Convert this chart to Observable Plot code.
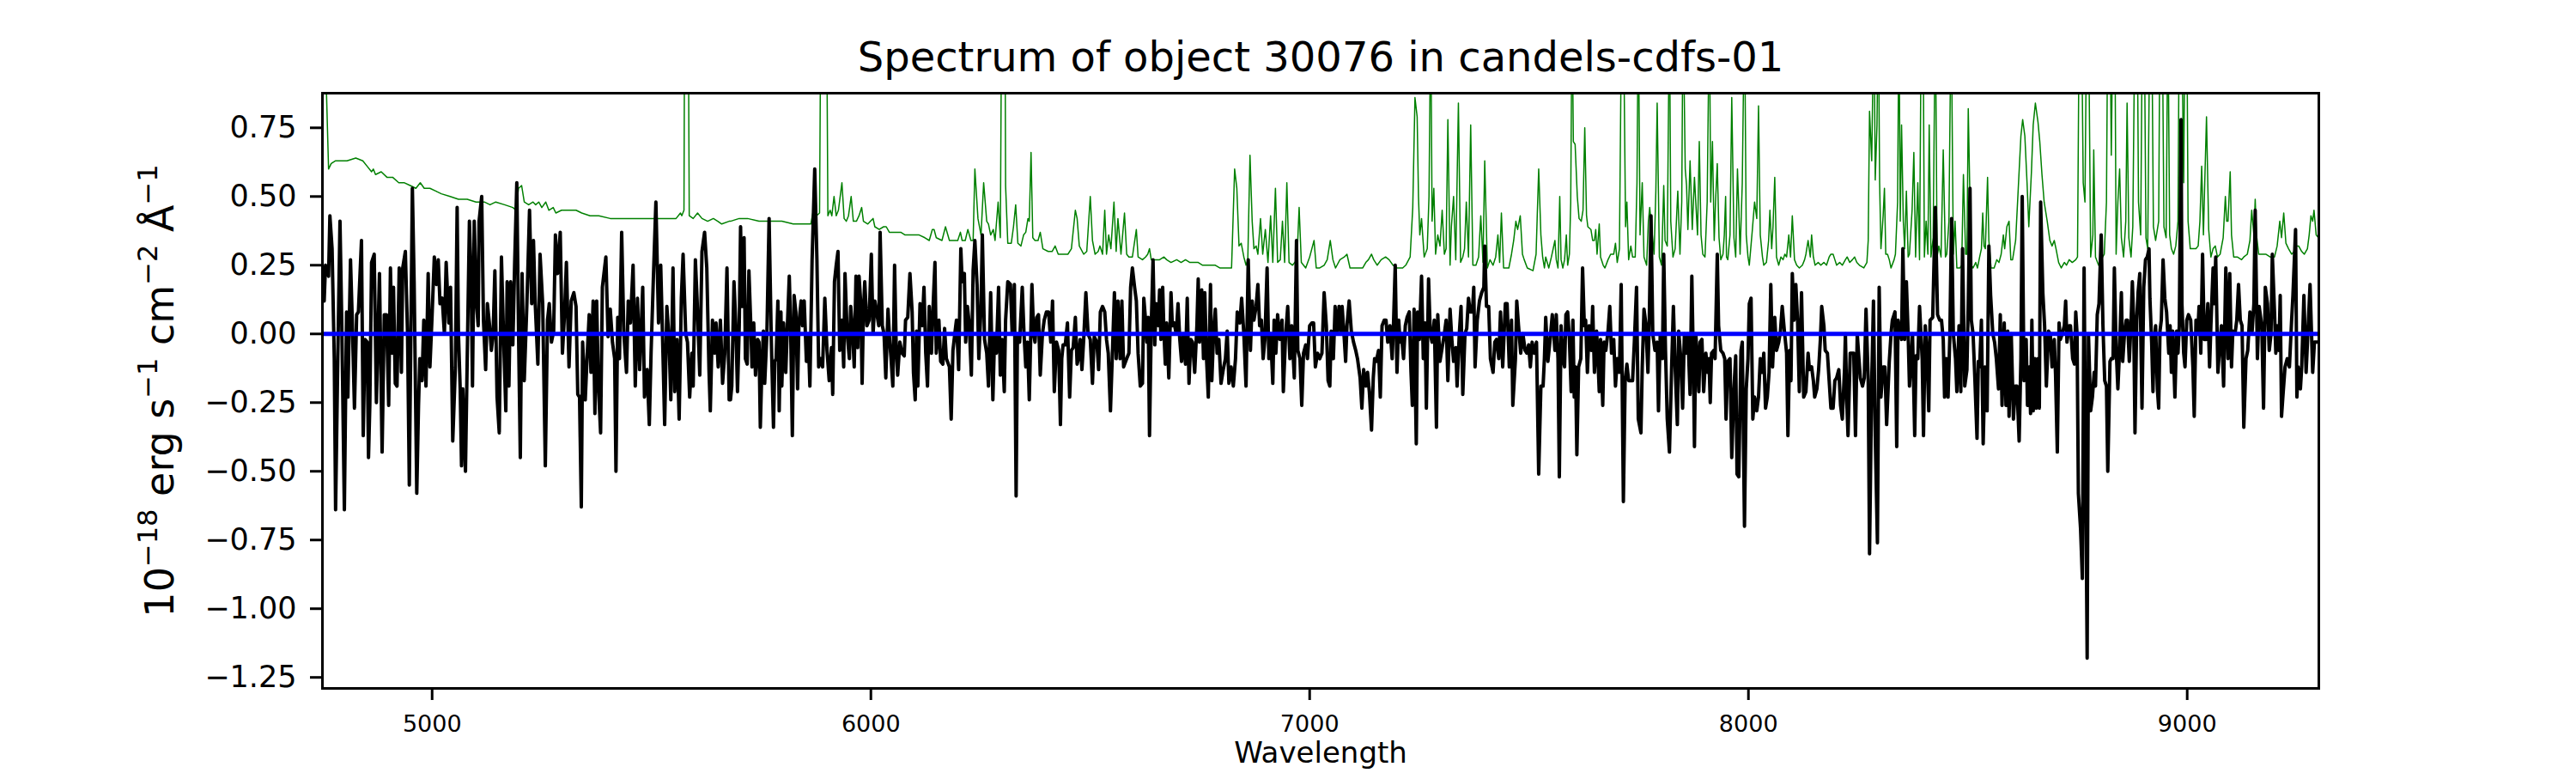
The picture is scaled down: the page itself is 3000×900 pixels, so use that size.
<!DOCTYPE html>
<html>
<head>
<meta charset="utf-8">
<script src="https://cdn.jsdelivr.net/npm/d3@7"></script>
<script src="https://cdn.jsdelivr.net/npm/@observablehq/plot@0.6"></script>
<style>
  html, body { margin: 0; padding: 0; background: #fff; }
  svg { display: block; }
</style>
</head>
<body>
<div id="chart"></div>
<script>
// ---- Chart text ----
const titleText = "Spectrum of object 30076 in candels-cdfs-01";
const xLabelText = "Wavelength";
const yLabelParts = [["10", false], ["\u221218", true], [" erg s", false], ["\u22121", true], [" cm", false], ["\u22122", true], [" \u00C5", false], ["\u22121", true]];
const xTicks = [5000, 6000, 7000, 8000, 9000];
const yTicks = [-1.25, -1.0, -0.75, -0.5, -0.25, 0, 0.25, 0.5, 0.75];
const xDomain = [4750, 9300];
const yDomain = [-1.29, 0.876];
const zeroLevel = [0];

// ---- Object spectrum (wavelength, flux) ----
const spec1 = [[4754,0.12],[4757,0.25],[4764,0.21],[4767,0.43],[4772,0.31],[4777,-0.09],[4780,-0.64],[4785,-0.09],[4790,0.41],[4794,0.05],[4800,-0.64],[4805,0.08],[4808,-0.23],[4814,0.27],[4818,0.05],[4823,-0.27],[4828,0.07],[4832,0.08],[4839,0.34],[4843,-0.37],[4847,-0.02],[4852,-0.03],[4855,-0.45],[4858,-0.26],[4862,0.26],[4868,0.29],[4873,-0.25],[4880,0.22],[4886,-0.43],[4891,0.07],[4896,0.07],[4901,-0.26],[4905,0.24],[4909,-0.07],[4912,0.17],[4916,-0.18],[4920,-0.19],[4925,0.24],[4930,-0.14],[4933,0.24],[4939,0.30],[4944,0.00],[4948,-0.55],[4955,0.53],[4959,0.19],[4965,-0.58],[4969,-0.26],[4972,-0.09],[4977,-0.17],[4981,0.05],[4986,-0.19],[4991,0.22],[4995,-0.12],[5000,0.07],[5005,0.28],[5010,0.18],[5014,0.27],[5018,0.11],[5023,0.13],[5028,0.00],[5032,0.26],[5038,0.04],[5042,0.17],[5047,-0.39],[5053,-0.12],[5057,0.46],[5060,0.00],[5064,-0.20],[5067,-0.48],[5070,-0.20],[5076,-0.50],[5080,-0.09],[5085,0.41],[5089,0.19],[5092,-0.19],[5096,0.41],[5101,0.11],[5105,0.03],[5107,0.41],[5113,0.50],[5117,0.05],[5122,-0.13],[5126,0.11],[5131,0.03],[5135,-0.06],[5139,0.00],[5143,0.23],[5148,-0.23],[5153,-0.36],[5158,0.28],[5163,-0.02],[5168,-0.28],[5171,0.19],[5175,-0.19],[5179,0.19],[5184,-0.04],[5188,0.25],[5193,0.55],[5197,0.00],[5201,-0.45],[5205,0.22],[5210,-0.17],[5216,0.11],[5222,0.45],[5227,0.11],[5231,0.34],[5235,0.11],[5241,-0.11],[5246,0.29],[5252,0.11],[5258,-0.48],[5263,0.05],[5267,0.11],[5272,-0.03],[5277,0.01],[5281,0.36],[5286,0.22],[5292,0.37],[5297,-0.07],[5302,0.08],[5306,0.26],[5312,-0.12],[5317,0.12],[5323,0.15],[5328,0.10],[5332,-0.22],[5336,-0.23],[5340,-0.63],[5343,-0.03],[5349,-0.24],[5353,-0.09],[5358,0.07],[5362,-0.14],[5367,0.12],[5371,-0.29],[5375,0.12],[5379,-0.19],[5384,-0.36],[5388,0.17],[5396,0.28],[5401,-0.01],[5406,0.09],[5411,-0.03],[5416,-0.09],[5419,-0.50],[5423,0.06],[5427,-0.09],[5432,0.37],[5437,0.00],[5443,-0.14],[5447,0.12],[5452,0.04],[5458,0.25],[5463,-0.19],[5468,0.13],[5473,-0.13],[5480,0.17],[5484,-0.23],[5490,-0.13],[5495,-0.33],[5499,-0.07],[5504,0.19],[5510,0.48],[5516,0.04],[5521,0.25],[5525,0.00],[5530,-0.33],[5535,0.10],[5540,-0.02],[5544,-0.24],[5549,0.24],[5553,-0.21],[5558,-0.02],[5563,-0.31],[5568,0.13],[5572,0.29],[5578,0.00],[5582,-0.03],[5587,-0.23],[5592,-0.07],[5595,-0.19],[5600,0.27],[5604,0.12],[5610,-0.15],[5615,0.30],[5621,0.37],[5626,0.24],[5631,-0.13],[5634,-0.28],[5639,0.05],[5644,-0.07],[5647,0.04],[5652,-0.12],[5657,0.05],[5662,-0.18],[5667,-0.07],[5672,0.24],[5677,-0.24]];
const spec2 = [[5680,-0.24],[5683,-0.19],[5688,0.19],[5692,0.04],[5696,-0.21],[5700,0.03],[5703,0.39],[5706,0.10],[5711,0.35],[5714,-0.09],[5718,-0.11],[5722,0.23],[5727,0.00],[5729,-0.12],[5733,0.04],[5737,-0.15],[5742,-0.02],[5745,-0.03],[5748,-0.34],[5752,-0.10],[5755,0.01],[5758,-0.18],[5763,0.00],[5768,0.42],[5773,-0.02],[5778,-0.34],[5781,-0.10],[5784,-0.09],[5788,0.12],[5791,-0.28],[5795,0.08],[5797,-0.19],[5801,0.04],[5806,-0.14],[5809,0.00],[5814,0.21],[5817,0.03],[5821,-0.37],[5825,0.14],[5829,0.08],[5833,-0.20],[5836,0.04],[5841,0.12],[5844,0.03],[5848,0.12],[5853,-0.10],[5857,0.00],[5861,-0.19],[5866,0.27],[5872,0.60],[5877,0.27],[5881,-0.12],[5885,-0.09],[5890,-0.12],[5895,0.13],[5900,-0.06],[5905,-0.17],[5910,-0.05],[5913,-0.22],[5917,0.19],[5921,0.25],[5925,0.30],[5929,-0.06],[5934,0.05],[5938,-0.12],[5941,0.22],[5946,0.00],[5951,-0.09],[5954,0.10],[5958,0.02],[5962,-0.12],[5966,0.21],[5970,-0.05],[5973,0.21],[5977,0.11],[5980,-0.18],[5983,0.08],[5986,0.19],[5991,0.03],[5996,0.05],[6001,0.29],[6005,0.00],[6009,0.12],[6014,0.07],[6018,0.03],[6021,0.37],[6026,0.03],[6030,0.00],[6034,-0.16],[6039,0.09],[6043,-0.03],[6046,-0.09],[6050,-0.19],[6054,0.25],[6058,-0.07],[6061,-0.15],[6066,-0.03],[6071,-0.07],[6076,-0.08],[6079,0.05],[6084,0.06],[6089,0.22],[6094,0.08],[6097,-0.14],[6101,-0.24],[6104,0.01],[6107,-0.19],[6112,0.11],[6117,0.03],[6121,0.17],[6125,-0.07],[6129,-0.19],[6133,0.10],[6138,-0.07],[6142,0.11],[6146,0.26],[6149,-0.07],[6155,0.05],[6159,-0.10],[6164,-0.11],[6168,0.02],[6172,-0.09],[6179,-0.12],[6183,-0.31],[6187,-0.06],[6192,0.01],[6195,0.05],[6200,-0.13],[6205,0.31],[6208,0.19],[6213,0.22],[6216,-0.03],[6220,0.10],[6224,0.04],[6229,-0.15],[6233,0.23],[6237,0.34],[6242,0.18],[6246,-0.09],[6251,0.10],[6254,0.36],[6259,-0.02],[6264,-0.07],[6268,-0.19],[6273,0.15],[6278,-0.24],[6282,0.00],[6286,-0.07],[6291,0.17],[6295,-0.15],[6299,-0.02],[6304,-0.21],[6307,0.05],[6312,0.19],[6318,0.18],[6322,0.00],[6327,0.18],[6331,-0.59],[6334,0.00],[6339,-0.03],[6345,0.17],[6349,0.00],[6353,-0.12],[6357,-0.03],[6361,-0.24],[6367,0.18],[6371,0.00],[6374,-0.03],[6378,0.06],[6382,0.07],[6386,-0.15],[6391,0.00],[6395,0.05],[6400,0.08],[6405,0.08],[6410,-0.03],[6414,0.12],[6418,-0.21],[6423,-0.03],[6428,-0.06],[6432,-0.33],[6435,-0.09],[6438,-0.04],[6443,-0.04],[6448,0.04],[6453,-0.23],[6457,-0.06],[6461,-0.05],[6466,0.06],[6470,-0.11],[6473,-0.09],[6477,-0.02],[6481,-0.13],[6485,-0.02],[6490,0.15],[6495,0.00],[6500,-0.02],[6505,-0.18],[6509,-0.01],[6515,-0.03],[6519,-0.13],[6523,0.08],[6528,0.10],[6533,0.08],[6537,-0.02],[6541,-0.07],[6546,-0.28],[6550,-0.09],[6555,0.15],[6559,-0.09],[6563,0.12],[6568,-0.09],[6572,0.12],[6576,-0.12],[6583,-0.09],[6588,-0.07],[6592,0.17],[6596,0.24],[6601,0.17],[6605,0.12],[6609,-0.07],[6614,-0.19]];
const spec3 = [[6619,-0.18],[6622,0.13],[6626,0.05],[6629,-0.03],[6632,0.06],[6635,-0.37],[6639,0.03],[6643,0.27],[6647,-0.04],[6650,0.11],[6655,0.03],[6658,0.16],[6661,-0.02],[6665,0.17],[6668,0.00],[6671,-0.11],[6674,0.04],[6679,-0.16],[6684,0.15],[6687,0.03],[6691,0.04],[6696,0.00],[6700,0.11],[6704,-0.02],[6708,-0.10],[6712,0.00],[6717,-0.11],[6721,0.13],[6725,-0.18],[6729,-0.02],[6733,-0.03],[6738,-0.14],[6743,0.03],[6746,0.20],[6749,-0.03],[6754,0.16],[6758,-0.09],[6761,0.15],[6765,-0.09],[6769,-0.23],[6774,0.18],[6777,-0.17],[6781,0.00],[6785,0.09],[6789,-0.07],[6793,-0.02],[6798,-0.18],[6803,-0.13],[6808,-0.09],[6812,0.01],[6816,-0.18],[6821,-0.12],[6826,-0.19],[6831,-0.09],[6835,0.08],[6841,0.04],[6845,0.13],[6850,0.00],[6855,-0.19],[6860,0.27],[6865,-0.06],[6869,0.12],[6873,0.05],[6878,0.10],[6882,0.18],[6886,0.03],[6890,0.05],[6894,-0.09],[6898,-0.02],[6903,0.24],[6907,-0.09],[6911,0.00],[6916,-0.18],[6919,0.05],[6923,-0.07],[6927,0.07],[6932,-0.02],[6937,0.05],[6940,-0.21],[6945,-0.01],[6950,0.10],[6955,-0.09],[6959,0.03],[6965,-0.16],[6970,0.34],[6973,-0.06],[6978,-0.09],[6982,-0.26],[6986,-0.07],[6991,-0.04],[6995,-0.09],[7000,0.03],[7005,0.04],[7009,0.04],[7013,-0.12],[7018,-0.07],[7023,-0.09],[7028,-0.07],[7033,0.15],[7038,0.03],[7042,-0.17],[7046,-0.19],[7049,0.01],[7054,-0.09],[7058,0.10],[7062,0.00],[7067,0.10],[7071,0.00],[7074,0.10],[7079,-0.02],[7082,-0.10],[7085,0.03],[7090,0.12],[7095,0.01],[7100,-0.03],[7105,-0.06],[7109,-0.09],[7115,-0.16],[7119,-0.27],[7123,-0.13],[7128,-0.19],[7132,-0.14],[7136,-0.21],[7141,-0.35],[7145,-0.16],[7148,-0.09],[7152,-0.10],[7157,-0.06],[7161,-0.23],[7165,0.03],[7170,0.05],[7174,0.05],[7178,-0.03],[7183,0.03],[7188,-0.09],[7191,0.03],[7195,0.25],[7199,-0.14],[7203,0.05],[7206,-0.03],[7209,0.00],[7214,-0.09],[7218,0.03],[7222,0.06],[7227,0.08],[7231,-0.14],[7234,-0.26],[7238,0.09],[7243,-0.40],[7246,0.08],[7250,-0.02],[7255,0.21],[7259,-0.09],[7263,0.04],[7266,-0.27],[7271,0.20],[7275,0.00],[7279,-0.03],[7284,0.05],[7289,-0.34],[7292,0.07],[7297,-0.10],[7302,-0.05],[7307,0.00],[7311,0.05],[7315,-0.17],[7320,0.09],[7324,-0.02],[7328,-0.10],[7333,-0.05],[7336,-0.19],[7341,0.00],[7345,0.10],[7349,-0.22],[7354,0.00],[7358,0.02],[7362,0.13],[7366,0.08],[7371,0.08],[7374,0.17],[7377,-0.12],[7382,0.05],[7387,0.12],[7392,0.15],[7397,0.17],[7399,0.32],[7403,0.10],[7408,0.10],[7412,-0.09],[7418,-0.14],[7422,-0.03],[7426,-0.02],[7431,-0.09],[7435,0.08],[7440,-0.12],[7446,0.11],[7450,0.11],[7455,-0.12],[7460,0.05],[7463,-0.26],[7469,-0.09],[7472,0.12],[7476,0.03],[7481,-0.07],[7486,0.00],[7491,-0.06],[7495,-0.07],[7499,-0.04],[7503,-0.12],[7507,-0.03],[7512,-0.07],[7517,-0.03],[7522,-0.51],[7527,-0.19],[7532,-0.19],[7535,-0.09],[7538,0.06],[7543,-0.10],[7548,-0.02],[7553,0.07]];
const spec4 = [[7559,-0.06],[7562,0.07],[7566,-0.09],[7569,-0.52],[7573,0.03],[7577,-0.09],[7581,-0.12],[7584,0.07],[7588,0.08],[7592,-0.02],[7596,-0.21],[7600,0.05],[7603,-0.23],[7606,-0.12],[7609,-0.44],[7613,-0.12],[7618,-0.09],[7622,0.24],[7626,0.03],[7629,0.05],[7633,-0.14],[7637,0.03],[7642,-0.06],[7645,0.10],[7649,-0.14],[7654,0.01],[7657,-0.09],[7660,-0.21],[7663,-0.02],[7668,-0.26],[7671,-0.03],[7675,-0.06],[7680,0.01],[7684,0.10],[7688,-0.07],[7693,-0.02],[7697,-0.19],[7701,-0.09],[7706,-0.14],[7710,0.18],[7715,-0.61],[7719,-0.17],[7723,-0.11],[7727,-0.17],[7732,-0.17],[7736,-0.17],[7740,-0.03],[7745,0.17],[7749,-0.31],[7755,-0.36],[7758,-0.12],[7762,0.09],[7766,0.04],[7771,-0.14],[7774,0.05],[7778,0.43],[7782,0.00],[7787,-0.06],[7792,-0.03],[7795,-0.28],[7799,0.00],[7804,-0.09],[7807,0.29],[7811,-0.06],[7815,-0.31],[7820,-0.43],[7825,-0.12],[7829,0.10],[7833,-0.12],[7838,-0.33],[7841,0.01],[7846,-0.09],[7850,-0.27],[7854,0.00],[7858,-0.07],[7862,0.00],[7867,-0.22],[7871,0.21],[7875,-0.15],[7877,-0.41],[7880,0.00],[7884,-0.09],[7887,-0.21],[7890,-0.03],[7894,-0.02],[7898,-0.21],[7903,-0.07],[7907,-0.14],[7910,-0.09],[7913,-0.25],[7916,-0.07],[7921,-0.06],[7924,-0.09],[7929,0.29],[7932,0.03],[7937,-0.06],[7942,-0.07],[7946,-0.09],[7949,-0.31],[7953,-0.10],[7958,-0.09],[7962,-0.45],[7967,-0.20],[7971,-0.08],[7974,-0.51],[7978,-0.52],[7983,-0.06],[7986,-0.03],[7991,-0.70],[7995,-0.20],[7999,-0.09],[8002,0.11],[8006,0.13],[8010,-0.31],[8014,-0.23],[8019,-0.28],[8023,-0.23],[8027,-0.09],[8032,-0.14],[8035,-0.07],[8039,-0.27],[8043,-0.23],[8047,-0.14],[8051,0.18],[8055,-0.12],[8060,0.06],[8064,-0.06],[8069,-0.03],[8073,0.01],[8077,0.10],[8082,0.01],[8087,-0.07],[8090,-0.37],[8094,-0.06],[8097,-0.17],[8100,0.22],[8104,0.05],[8108,0.18],[8112,0.05],[8116,-0.21],[8121,0.15],[8126,-0.23],[8131,-0.21],[8136,-0.07],[8139,-0.13],[8144,-0.12],[8148,-0.17],[8151,-0.23],[8156,-0.20],[8160,-0.13],[8164,-0.02],[8167,0.10],[8172,0.03],[8175,-0.06],[8180,-0.07],[8184,-0.17],[8188,-0.27],[8193,-0.27],[8197,-0.17],[8201,-0.16],[8206,-0.13],[8210,-0.26],[8214,-0.31],[8219,-0.13],[8221,0.00],[8224,-0.24],[8227,-0.37],[8232,-0.07],[8236,-0.07],[8240,-0.07],[8244,-0.37],[8248,0.00],[8251,-0.07],[8255,-0.16],[8260,-0.19],[8264,-0.16],[8268,0.09],[8273,-0.17],[8276,-0.80],[8281,-0.17],[8285,0.12],[8289,-0.37],[8294,-0.76],[8298,0.17],[8302,-0.23],[8307,-0.12],[8311,-0.12],[8315,-0.33],[8321,-0.10],[8325,0.00],[8328,0.05],[8334,0.08],[8338,-0.41],[8341,0.05],[8346,0.00],[8349,-0.02],[8352,0.31],[8356,-0.02],[8360,0.19],[8364,0.00],[8367,-0.19],[8371,-0.09],[8374,0.00],[8379,-0.37],[8382,-0.08],[8386,-0.09],[8390,0.10],[8396,-0.09],[8399,-0.37],[8403,0.03],[8407,-0.07],[8411,-0.28],[8414,0.05],[8420,0.06],[8426,0.46],[8431,0.07],[8436,0.05],[8440,0.05],[8444,-0.02],[8447,-0.23],[8451,-0.09],[8455,-0.23],[8459,-0.01],[8463,0.42],[8467,0.00],[8472,-0.09],[8475,-0.21],[8480,0.03],[8484,-0.21],[8488,0.31],[8493,-0.19]];
const spec5 = [[8498,-0.13],[8501,0.11],[8505,0.53],[8508,0.05],[8512,0.00],[8516,-0.16],[8521,-0.38],[8524,-0.10],[8527,-0.12],[8531,0.05],[8535,-0.40],[8539,-0.12],[8544,-0.28],[8548,0.32],[8552,0.14],[8557,0.00],[8561,-0.03],[8565,-0.09],[8570,-0.20],[8574,0.07],[8578,-0.26],[8583,0.04],[8587,-0.26],[8591,0.01],[8594,-0.30],[8599,0.00],[8604,-0.31],[8608,-0.19],[8612,-0.19],[8617,-0.39],[8621,-0.09],[8624,0.50],[8628,-0.17],[8633,-0.02],[8636,-0.26],[8640,-0.12],[8643,-0.29],[8646,0.05],[8649,-0.28],[8653,-0.09],[8656,-0.27],[8660,-0.09],[8663,-0.27],[8666,0.48],[8671,0.15],[8675,0.03],[8679,-0.19],[8684,0.01],[8688,0.00],[8692,-0.12],[8697,-0.02],[8700,-0.15],[8704,-0.43],[8708,0.04],[8711,-0.02],[8715,0.00],[8720,0.03],[8723,0.12],[8726,-0.03],[8731,0.03],[8734,0.03],[8739,-0.09],[8743,-0.11],[8746,0.08],[8749,0.00],[8752,-0.58],[8757,-0.71],[8761,-0.89],[8765,0.24],[8769,-0.57],[8772,-1.18],[8775,0.00],[8780,-0.28],[8784,-0.23],[8788,-0.14],[8791,-0.19],[8795,0.07],[8799,0.11],[8804,0.36],[8808,0.03],[8812,-0.17],[8816,-0.19],[8819,-0.50],[8824,-0.10],[8827,-0.09],[8831,-0.09],[8834,0.24],[8838,-0.05],[8842,-0.20],[8845,-0.09],[8850,0.15],[8853,-0.10],[8857,0.00],[8861,0.05],[8864,0.05],[8868,-0.10],[8872,0.04],[8875,0.19],[8878,0.05],[8881,-0.36],[8885,0.05],[8888,0.15],[8892,0.22],[8897,-0.27],[8901,0.17],[8905,0.27],[8909,0.28],[8913,0.31],[8915,0.13],[8919,-0.03],[8922,-0.21],[8925,-0.02],[8928,0.03],[8932,-0.20],[8935,-0.27],[8938,0.01],[8941,0.05],[8945,0.27],[8949,0.13],[8953,0.08],[8958,-0.07],[8961,0.03],[8964,-0.14],[8967,0.01],[8972,-0.23],[8976,0.01],[8979,-0.07],[8982,0.03],[8986,0.78],[8988,0.11],[8992,-0.07],[8995,-0.12],[8999,0.05],[9003,0.07],[9008,0.05],[9013,-0.12],[9016,-0.30],[9020,0.05],[9024,0.00],[9027,0.10],[9031,-0.07],[9035,0.29],[9039,-0.02],[9043,-0.02],[9047,0.11],[9051,-0.12],[9054,0.03],[9059,0.24],[9062,0.11],[9065,0.28],[9070,-0.14],[9073,-0.07],[9078,0.03],[9083,-0.19],[9088,0.24],[9093,-0.09],[9097,0.22],[9101,-0.12],[9104,0.01],[9109,0.00],[9113,0.05],[9117,0.18],[9121,0.05],[9125,0.03],[9129,-0.34],[9134,-0.09],[9138,-0.06],[9143,0.08],[9148,0.01],[9152,0.11],[9155,0.45],[9160,-0.09],[9164,0.10],[9170,0.03],[9174,-0.27],[9178,0.17],[9183,0.11],[9187,-0.06],[9191,0.00],[9194,0.29],[9199,0.08],[9202,-0.07],[9205,0.03],[9209,-0.06],[9212,0.14],[9215,-0.30],[9218,-0.23],[9223,-0.12],[9228,-0.09],[9233,-0.12],[9238,0.05],[9241,0.14],[9247,0.38],[9250,-0.23],[9253,-0.12],[9258,-0.20],[9261,-0.12],[9266,0.14],[9271,-0.14],[9275,0.00],[9280,0.18],[9286,-0.14],[9290,-0.03],[9297,-0.03]];

// ---- Sky / noise spectrum (wavelength, flux); lines above the top run off the plot ----
const sky1 = [[4750,1.2],[4758,0.95],[4764,0.60],[4770,0.62],[4780,0.63],[4806,0.63],[4826,0.64],[4842,0.63],[4852,0.61],[4862,0.59],[4866,0.60],[4871,0.58],[4884,0.59],[4897,0.57],[4910,0.57],[4924,0.55],[4937,0.55],[4950,0.54],[4963,0.53],[4973,0.55],[4982,0.53],[4995,0.53],[5008,0.52],[5021,0.51],[5041,0.50],[5060,0.49],[5080,0.49],[5100,0.48],[5119,0.48],[5132,0.47],[5145,0.48],[5165,0.47],[5184,0.46],[5191,0.45],[5197,0.53],[5204,0.54],[5210,0.48],[5220,0.47],[5230,0.48],[5236,0.47],[5243,0.48],[5250,0.46],[5259,0.48],[5266,0.45],[5276,0.46],[5282,0.44],[5295,0.45],[5308,0.45],[5328,0.45],[5341,0.44],[5360,0.43],[5380,0.43],[5406,0.42],[5432,0.42],[5458,0.42],[5484,0.42],[5510,0.42],[5536,0.42],[5556,0.42],[5566,0.44],[5569,0.43],[5574,0.45],[5576,1.5],[5583,1.5],[5586,0.43],[5595,0.42],[5605,0.44],[5615,0.42],[5628,0.41],[5641,0.42],[5651,0.41],[5660,0.40],[5677,0.41]];
const sky2 = [[5680,0.41],[5700,0.42],[5719,0.42],[5745,0.41],[5771,0.41],[5797,0.41],[5823,0.40],[5850,0.40],[5863,0.40],[5869,0.45],[5876,0.43],[5883,0.44],[5887,1.5],[5898,1.5],[5902,0.43],[5907,0.45],[5911,0.43],[5916,0.50],[5921,0.43],[5926,0.45],[5934,0.55],[5939,0.42],[5944,0.41],[5949,0.43],[5955,0.50],[5960,0.41],[5967,0.41],[5973,0.43],[5979,0.46],[5983,0.41],[5993,0.40],[5999,0.41],[6005,0.42],[6009,0.39],[6019,0.38],[6029,0.39],[6035,0.39],[6042,0.37],[6055,0.37],[6068,0.37],[6078,0.36],[6097,0.36],[6110,0.36],[6123,0.35],[6133,0.34],[6140,0.38],[6144,0.38],[6149,0.35],[6162,0.34],[6170,0.39],[6179,0.34],[6189,0.34],[6198,0.34],[6204,0.37],[6208,0.34],[6215,0.34],[6221,0.38],[6228,0.34],[6233,0.34],[6237,0.60],[6244,0.42],[6251,0.36],[6257,0.55],[6264,0.41],[6268,0.40],[6273,0.36],[6279,0.38],[6283,0.34],[6290,0.48],[6295,0.35],[6299,1.5],[6305,1.5],[6307,0.54],[6312,0.33],[6320,0.33],[6325,0.39],[6330,0.47],[6335,0.33],[6342,0.32],[6348,0.36],[6353,0.37],[6358,0.42],[6361,0.41],[6365,0.66],[6369,0.35],[6374,0.34],[6381,0.34],[6386,0.37],[6392,0.31],[6404,0.30],[6413,0.30],[6420,0.32],[6427,0.29],[6440,0.29],[6449,0.29],[6457,0.31],[6466,0.45],[6470,0.42],[6475,0.32],[6485,0.29],[6492,0.30],[6500,0.50],[6505,0.34],[6511,0.29],[6518,0.30],[6522,0.32],[6528,0.29],[6533,0.45],[6537,0.29],[6542,0.36],[6547,0.31],[6554,0.48],[6559,0.30],[6563,0.42],[6570,0.29],[6578,0.44],[6583,0.29],[6588,0.28],[6596,0.28],[6605,0.38],[6609,0.28]];
const sky3 = [[6619,0.27],[6626,0.28],[6631,0.29],[6635,0.31],[6639,0.27],[6648,0.27],[6658,0.27],[6668,0.28],[6674,0.27],[6684,0.26],[6697,0.27],[6707,0.26],[6717,0.27],[6727,0.26],[6736,0.26],[6746,0.26],[6756,0.25],[6769,0.25],[6785,0.25],[6795,0.24],[6808,0.24],[6822,0.24],[6829,0.60],[6834,0.53],[6839,0.32],[6844,0.33],[6850,0.28],[6855,0.25],[6859,0.27],[6864,0.65],[6869,0.41],[6873,0.31],[6878,0.32],[6882,0.29],[6888,0.42],[6893,0.29],[6899,0.38],[6905,0.26],[6911,0.43],[6916,0.26],[6922,0.53],[6927,0.26],[6933,0.27],[6938,0.41],[6943,0.26],[6948,0.55],[6953,0.26],[6961,0.25],[6971,0.27],[6976,0.46],[6981,0.26],[6991,0.24],[7000,0.28],[7005,0.31],[7010,0.34],[7015,0.24],[7023,0.24],[7033,0.25],[7040,0.27],[7047,0.34],[7053,0.27],[7059,0.24],[7069,0.27],[7079,0.28],[7085,0.29],[7092,0.24],[7105,0.24],[7121,0.24],[7128,0.26],[7134,0.27],[7141,0.29],[7146,0.27],[7154,0.25],[7163,0.27],[7173,0.28],[7181,0.27],[7190,0.25],[7199,0.24],[7212,0.24],[7219,0.25],[7229,0.28],[7235,0.46],[7240,0.86],[7245,0.79],[7248,0.50],[7251,0.36],[7255,0.42],[7261,0.28],[7268,0.31],[7272,0.50],[7276,1.2],[7279,0.41],[7283,0.53],[7287,0.29],[7292,0.36],[7297,0.32],[7302,0.45],[7307,0.29],[7311,0.31],[7315,0.78],[7320,0.25],[7323,0.39],[7328,0.50],[7333,0.27],[7339,0.84],[7344,0.26],[7349,0.28],[7353,0.31],[7357,0.48],[7362,0.28],[7367,0.76],[7372,0.25],[7379,0.25],[7385,0.28],[7390,0.43],[7395,0.26],[7399,0.63],[7405,0.24],[7411,0.27],[7418,0.25],[7424,0.28],[7429,0.36],[7433,0.26],[7437,0.44],[7442,0.24],[7454,0.24],[7460,0.29],[7465,0.34],[7470,0.41],[7474,0.38],[7480,0.43],[7485,0.29],[7489,0.27],[7496,0.24],[7509,0.23],[7516,0.29],[7522,0.60],[7527,0.36],[7531,0.28],[7535,0.24],[7538,0.28],[7545,0.24],[7551,0.28]];
const sky4 = [[7559,0.34],[7562,0.27],[7566,0.24],[7570,0.50],[7573,0.27],[7577,0.24],[7581,0.27],[7585,0.36],[7588,0.25],[7592,0.29],[7595,0.48],[7598,1.2],[7601,0.70],[7605,0.69],[7610,0.50],[7614,0.42],[7619,0.41],[7623,0.45],[7627,0.75],[7631,0.43],[7634,0.39],[7641,0.38],[7645,0.34],[7649,0.34],[7652,0.38],[7655,0.29],[7660,0.40],[7663,0.28],[7669,0.25],[7673,0.24],[7680,0.27],[7686,0.29],[7693,0.29],[7697,0.33],[7701,0.26],[7706,0.31],[7711,1.2],[7715,1.2],[7720,0.39],[7723,0.48],[7727,0.27],[7732,0.32],[7736,0.28],[7742,0.28],[7746,0.55],[7749,1.2],[7753,0.36],[7758,0.55],[7762,0.28],[7768,0.25],[7772,0.41],[7775,0.46],[7781,0.36],[7785,0.29],[7789,0.52],[7792,0.84],[7797,0.28],[7802,0.25],[7807,0.54],[7810,0.34],[7815,0.32],[7820,1.2],[7823,0.41],[7828,0.28],[7833,0.31],[7839,0.52],[7844,0.29],[7848,0.48],[7851,1.2],[7856,0.60],[7859,0.54],[7862,0.38],[7867,0.63],[7872,0.38],[7877,0.57],[7880,0.48],[7884,0.36],[7888,0.70],[7892,0.36],[7896,0.29],[7901,0.28],[7906,0.48],[7911,1.2],[7914,0.48],[7918,0.70],[7922,0.34],[7925,0.48],[7929,0.62],[7933,0.35],[7937,0.27],[7942,0.29],[7945,0.36],[7948,0.50],[7950,0.28],[7953,0.27],[7958,0.36],[7962,0.86],[7967,0.35],[7971,0.28],[7975,0.60],[7978,0.46],[7981,0.29],[7986,0.55],[7991,1.2],[7995,0.36],[7999,0.28],[8002,0.25],[8009,0.38],[8014,0.48],[8019,0.42],[8023,0.83],[8027,0.36],[8032,0.28],[8035,0.25],[8041,0.26],[8046,0.34],[8049,0.45],[8053,0.31],[8056,0.39],[8060,0.57],[8064,0.28],[8069,0.25],[8074,0.28],[8079,0.27],[8083,0.29],[8087,0.28],[8092,0.36],[8096,0.28],[8100,0.43],[8105,0.27],[8110,0.25],[8116,0.24],[8123,0.25],[8128,0.27],[8131,0.29],[8136,0.34],[8141,0.28],[8144,0.36],[8148,0.28],[8152,0.25],[8159,0.26],[8165,0.25],[8172,0.26],[8178,0.25],[8184,0.28],[8188,0.29],[8193,0.29],[8197,0.27],[8201,0.25],[8208,0.26],[8214,0.25],[8221,0.27],[8225,0.28],[8231,0.26],[8237,0.27],[8242,0.28],[8247,0.26],[8253,0.25],[8263,0.24],[8270,0.26],[8273,0.34],[8276,0.81],[8281,0.63],[8286,1.2],[8289,0.56],[8293,0.76],[8296,1.2],[8299,0.55],[8302,0.31],[8307,0.43],[8310,0.53],[8313,0.29],[8317,0.29],[8321,0.27],[8325,0.24],[8332,0.27],[8335,0.29],[8340,0.48],[8343,1.2],[8346,0.41],[8349,0.76],[8353,0.41],[8356,0.31],[8360,0.52],[8364,0.28],[8367,0.29],[8373,0.45],[8377,0.66],[8381,0.28],[8386,0.55],[8390,0.27],[8394,1.2],[8398,1.2],[8401,0.28],[8405,0.41],[8409,0.29],[8412,0.76],[8416,0.28],[8421,0.35],[8426,1.2],[8430,0.28],[8434,0.32],[8439,0.28],[8444,0.67],[8449,0.28],[8452,0.29],[8457,0.41],[8462,1.2],[8467,0.29],[8471,0.41],[8475,0.24],[8482,0.24],[8486,0.25],[8490,0.58],[8495,0.29]];
const sky5 = [[8498,0.29],[8501,0.82],[8505,0.48],[8508,0.25],[8512,0.24],[8518,0.26],[8522,0.24],[8527,0.28],[8531,0.31],[8534,0.44],[8537,0.32],[8540,0.31],[8545,0.57],[8548,0.34],[8553,0.24],[8560,0.24],[8566,0.27],[8571,0.26],[8576,0.29],[8581,0.36],[8584,0.31],[8589,0.39],[8594,0.41],[8598,0.27],[8602,0.27],[8609,0.34],[8615,0.53],[8621,0.72],[8625,0.78],[8630,0.72],[8635,0.55],[8639,0.39],[8645,0.59],[8649,0.76],[8654,0.84],[8660,0.77],[8664,0.70],[8669,0.58],[8674,0.48],[8681,0.41],[8687,0.34],[8692,0.32],[8697,0.34],[8701,0.31],[8707,0.26],[8713,0.24],[8720,0.26],[8725,0.25],[8731,0.27],[8738,0.26],[8746,0.27],[8750,0.28],[8754,1.2],[8759,1.2],[8763,0.55],[8767,0.48],[8771,1.2],[8775,1.2],[8780,0.28],[8785,0.36],[8787,0.67],[8791,0.28],[8798,0.25],[8804,0.27],[8811,0.29],[8816,0.48],[8819,1.2],[8824,1.2],[8827,0.65],[8831,1.2],[8835,1.2],[8838,0.29],[8842,0.48],[8846,0.60],[8850,0.35],[8855,0.28],[8860,0.41],[8863,0.84],[8867,0.35],[8872,0.28],[8876,0.39],[8881,1.2],[8886,1.2],[8889,0.48],[8894,0.36],[8898,1.2],[8902,1.2],[8906,0.35],[8910,0.31],[8915,1.2],[8919,1.2],[8923,0.39],[8928,0.34],[8935,0.41],[8938,1.2],[8943,1.2],[8947,0.39],[8952,0.35],[8956,1.2],[8960,0.36],[8964,0.31],[8969,0.29],[8974,0.32],[8979,0.41],[8982,1.2],[8987,1.2],[8992,0.55],[8995,1.2],[8999,1.2],[9002,0.41],[9007,0.31],[9013,0.31],[9020,0.31],[9025,0.32],[9029,0.41],[9033,0.61],[9037,0.36],[9040,0.55],[9044,0.79],[9049,0.38],[9054,0.28],[9059,0.31],[9064,0.32],[9069,0.28],[9075,0.29],[9082,0.35],[9087,0.50],[9090,0.41],[9093,0.41],[9098,0.59],[9101,0.36],[9106,0.28],[9114,0.28],[9124,0.27],[9129,0.28],[9137,0.29],[9143,0.34],[9147,0.45],[9152,0.36],[9155,0.49],[9158,0.36],[9163,0.29],[9170,0.29],[9179,0.29],[9189,0.28],[9199,0.28],[9205,0.32],[9211,0.41],[9215,0.35],[9220,0.44],[9225,0.33],[9231,0.31],[9238,0.29],[9244,0.30],[9248,0.32],[9254,0.32],[9261,0.30],[9267,0.29],[9274,0.31],[9278,0.36],[9282,0.43],[9286,0.41],[9289,0.45],[9294,0.36],[9299,0.35]];

const objectSpectrum = [...spec1, ...spec2, ...spec3, ...spec4, ...spec5].map(([w, f]) => ({wavelength: w, flux: f}));
const skySpectrum = [...sky1, ...sky2, ...sky3, ...sky4, ...sky5].map(([w, f]) => ({wavelength: w, flux: f}));

const FONT = "'DejaVu Sans', 'Liberation Sans', sans-serif";

const chart = Plot.plot({
  width: 3000,
  height: 900,
  marginLeft: 375,
  marginRight: 300,
  marginTop: 108,
  marginBottom: 99,
  style: {fontFamily: FONT, background: "#ffffff", color: "#000000", overflow: "visible"},
  x: {domain: xDomain, label: null},
  y: {domain: yDomain, label: null},
  marks: [
    Plot.line(skySpectrum, {x: "wavelength", y: "flux", stroke: "#008000", strokeWidth: 1.5, clip: true}),
    Plot.line(objectSpectrum, {x: "wavelength", y: "flux", stroke: "#000000", strokeWidth: 4, strokeLinejoin: "round", clip: true}),
    Plot.ruleY(zeroLevel, {stroke: "#0000ff", strokeWidth: 5}),
    Plot.frame({stroke: "#000000", strokeWidth: 3}),
    Plot.axisX({ticks: xTicks, tickFormat: "d", tickSize: 14, tickPadding: 17, fontSize: 27, strokeWidth: 3, label: null}),
    Plot.axisY({ticks: yTicks, tickFormat: ".2f", tickSize: 14, tickPadding: 16, fontSize: 35, strokeWidth: 3, label: null}),
    Plot.text([titleText], {text: d => d, frameAnchor: "top", lineAnchor: "top", dy: -60, fontSize: 48, fill: "#000000"}),
    Plot.text([xLabelText], {text: d => d, frameAnchor: "bottom", lineAnchor: "top", dy: 62, fontSize: 34, fill: "#000000"})
  ]
});

// Rotated y-axis label with superscripts (as in matplotlib mathtext)
const svg = d3.select(chart);
const label = svg.append("text")
  .attr("transform", "translate(202,455) rotate(-90)")
  .attr("text-anchor", "middle")
  .attr("font-family", FONT)
  .attr("font-size", 46)
  .attr("fill", "#000000");
let shifted = false;
for (const [txt, sup] of yLabelParts) {
  const ts = label.append("tspan").text(txt);
  if (sup && !shifted) { ts.attr("dy", -19).attr("font-size", 32); shifted = true; }
  else if (sup) { ts.attr("font-size", 32); }
  else if (!sup && shifted) { ts.attr("dy", 19); shifted = false; }
}

document.getElementById("chart").appendChild(chart);
</script>
</body>
</html>
